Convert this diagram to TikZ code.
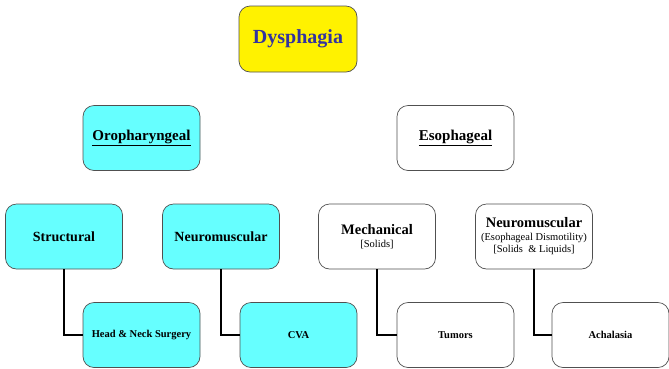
\documentclass[tikz,border=0pt]{standalone}
\usepackage{fontspec}
\setmainfont{Liberation Serif}
\definecolor{dystext}{RGB}{51,51,160}
\definecolor{boxcyan}{RGB}{102,255,255}
\definecolor{boxborder}{RGB}{80,80,80}
\begin{document}
\begin{tikzpicture}[x=1pt,y=-1pt,
  box/.style={draw=boxborder, line width=0.7pt, rounded corners=11pt, minimum width=117pt, minimum height=65pt, align=center, inner sep=1pt, font=\bfseries},
  cyanbox/.style={box, fill=boxcyan},
  whitebox/.style={box, fill=white},
  link/.style={line width=2.2pt, black}]
\useasboundingbox (0,0) rectangle (669,368);
\node[box, fill=yellow, minimum width=118pt, minimum height=66pt, text=dystext, font=\bfseries\fontsize{20}{24}\selectfont] (dys) at (298,39) {Dysphagia};
\node[cyanbox, font=\bfseries\fontsize{15}{18}\selectfont] (oro) at (141.5,138) {\underline{Oropharyngeal}};
\node[whitebox, font=\bfseries\fontsize{15}{18}\selectfont] (eso) at (455.5,138) {\underline{Esophageal}};
\node[cyanbox, font=\bfseries\fontsize{14}{17}\selectfont] (str) at (64,236.5) {Structural};
\node[cyanbox, font=\bfseries\fontsize{14}{17}\selectfont] (nml) at (221,236.5) {Neuromuscular};
\node[whitebox] (mech) at (377,236.5) {{\fontsize{14.5}{17}\selectfont Mechanical}\\[1.5pt]{\mdseries\fontsize{10.5}{13}\selectfont [Solids]}};
\node[whitebox] (nmr) at (534,236.5) {{\fontsize{14.5}{17}\selectfont Neuromuscular}\\[1pt]{\mdseries\fontsize{10.5}{14}\selectfont (Esophageal Dismotility)}\\{\mdseries\fontsize{10.5}{13}\selectfont [Solids \ \& Liquids]}};
\node[cyanbox, font=\bfseries\fontsize{10.5}{13}\selectfont] (hns) at (141.5,335) {Head \& Neck Surgery};
\node[cyanbox, font=\bfseries\fontsize{10.5}{13}\selectfont] (cva) at (298.5,335) {CVA};
\node[whitebox, font=\bfseries\fontsize{10.5}{13}\selectfont] (tum) at (455.5,335) {Tumors};
\node[whitebox, font=\bfseries\fontsize{10.5}{13}\selectfont] (ach) at (610.5,335) {Achalasia};
\draw[link] (str.south) |- (hns.west);
\draw[link] (nml.south) |- (cva.west);
\draw[link] (mech.south) |- (tum.west);
\draw[link] (nmr.south) |- (ach.west);
\end{tikzpicture}
\end{document}
